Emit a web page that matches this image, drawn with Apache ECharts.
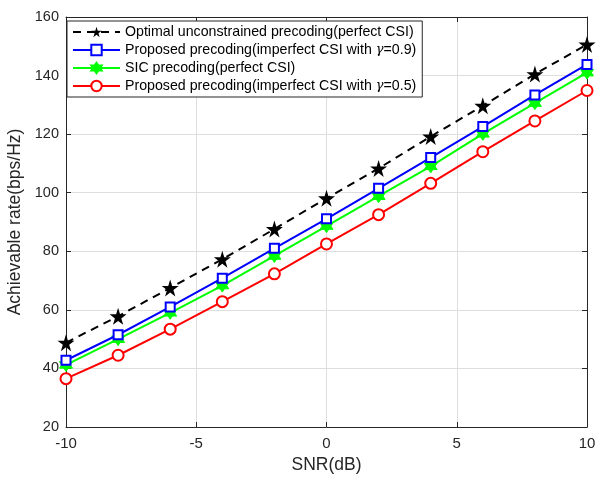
<!DOCTYPE html>
<html>
<head>
<meta charset="utf-8">
<script src="https://cdn.jsdelivr.net/npm/echarts@6/dist/echarts.min.js"></script>
<style>
html,body{margin:0;padding:0;background:#fff;}
#main{width:596px;height:477px;}
</style>
</head>
<body>
<div id="main"></div>
<script>
var snr=[-10,-8,-6,-4,-2,0,2,4,6,8,10];
var optimal=[48.8,57.8,67.5,77.3,87.6,98.1,108.3,119.2,129.7,140.5,150.6];
var proposed09=[42.8,51.5,61.0,70.8,81.0,91.1,101.5,112.0,122.6,133.4,143.8];
var sic=[41.2,50.0,59.0,68.3,78.4,88.6,98.8,109.0,120.1,130.6,141.0];
var proposed05=[36.5,44.5,53.4,62.8,72.3,82.5,92.5,103.2,114.0,124.5,134.9];

var names=['Optimal unconstrained precoding(perfect CSI)',
  'Proposed precoding(imperfect CSI with γ=0.9)',
  'SIC precoding(perfect CSI)',
  'Proposed precoding(imperfect CSI with γ=0.5)'];

function pairs(ys){
    return snr.map((x,i)=>[x,ys[i]])
}

var star='path://M50,0 L61,35 L98,35 L68,57 L79,91 L50,70 L21,91 L32,57 L2,35 L39,35 Z';
var hexa='path://M50,0 L93,75 L7,75 Z M50,100 L7,25 L93,25 Z';
var font='Liberation Sans';
var dark='#262626';

var tickStyle={show:true,inside:true,length:5,lineStyle:{color:dark}};

var myChart=echarts.init(document.getElementById('main'))
myChart.setOption({
    animation:false,
    grid:{left:66,right:9,top:17,bottom:50,outerBoundsMode:'none',containLabel:false},
    legend:{
        orient:'vertical',
        left:67,top:21,
        backgroundColor:'#fff',
        borderColor:dark,borderWidth:1,
        padding:[3,6,3,5],
        itemWidth:47,itemHeight:13,itemGap:2,
        data:names,
        formatter:function(n){return n.replace('γ','{g|γ}')},
        textStyle:{fontFamily:font,fontSize:14.2,color:'#000',lineHeight:16,
            rich:{g:{fontFamily:'DejaVu Serif',fontStyle:'italic',fontSize:13,color:'#000'}}}
    },
    xAxis:[{
        type:'value',min:-10,max:10,interval:5,
        name:'SNR(dB)',nameLocation:'middle',nameGap:28,
        nameTextStyle:{fontFamily:font,fontSize:17.5,color:dark},
        axisLine:{onZero:false,lineStyle:{color:dark}},
        axisTick:tickStyle,
        axisLabel:{fontFamily:font,fontSize:15,color:dark,margin:9},
        splitLine:{lineStyle:{color:'#dedede'}}
    },{
        type:'value',min:-10,max:10,interval:5,position:'top',
        axisLine:{onZero:false,lineStyle:{color:dark}},
        axisTick:tickStyle,axisLabel:{show:false},splitLine:{show:false}
    }],
    yAxis:[{
        type:'value',min:20,max:160,interval:20,
        name:'Achievable rate(bps/Hz)',nameLocation:'middle',nameGap:10,
        nameTextStyle:{fontFamily:font,fontSize:17.5,color:dark},
        axisLine:{show:true,onZero:false,lineStyle:{color:dark}},
        axisTick:tickStyle,
        axisLabel:{fontFamily:font,fontSize:14.5,color:dark,margin:7},
        splitLine:{lineStyle:{color:'#dedede'}}
    },{
        type:'value',min:20,max:160,interval:20,position:'right',
        axisLine:{show:true,onZero:false,lineStyle:{color:dark}},
        axisTick:tickStyle,axisLabel:{show:false},splitLine:{show:false}
    }],
    series:[
        {
            name:names[0],type:'line',data:pairs(optimal),
            symbol:star,symbolSize:17,
            lineStyle:{color:'#000',width:2,type:[8,6]},
            itemStyle:{color:'#000'},z:5
        },
        {
            name:names[1],type:'line',data:pairs(proposed09),
            symbol:'rect',symbolSize:9,
            lineStyle:{color:'#0000ff',width:2},
            itemStyle:{color:'#fff',borderColor:'#0000ff',borderWidth:2},z:4
        },
        {
            name:names[2],type:'line',data:pairs(sic),
            symbol:hexa,symbolSize:13,
            lineStyle:{color:'#00ff00',width:2},
            itemStyle:{color:'#00ff00',borderColor:'#00ff00',borderWidth:1},z:3
        },
        {
            name:names[3],type:'line',data:pairs(proposed05),
            symbol:'circle',symbolSize:11,
            lineStyle:{color:'#ff0000',width:2},
            itemStyle:{color:'#fff',borderColor:'#ff0000',borderWidth:2},z:2
        }
    ]
})
</script>
</body>
</html>
